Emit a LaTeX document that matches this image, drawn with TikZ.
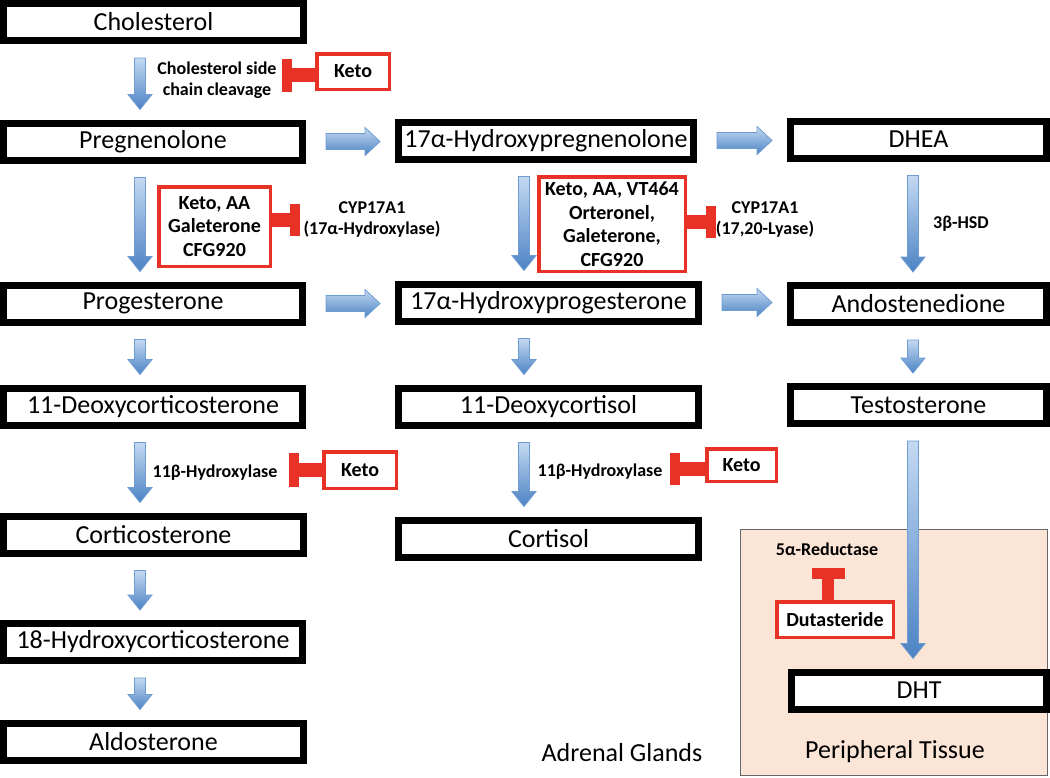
\documentclass[tikz,border=0pt]{standalone}
\usepackage{fontspec}
\setmainfont{Carlito}
\usepackage{xcolor}
\definecolor{inhred}{RGB}{233,50,38}
\definecolor{flowlight}{RGB}{196,217,242}
\definecolor{flowdark}{RGB}{76,131,196}
\definecolor{flowedge}{RGB}{110,155,210}
\definecolor{tissue}{RGB}{251,229,214}
\usepackage{tikz}
\usetikzlibrary{calc}
\usetikzlibrary{shadows}

\tikzset{
  stepbox/.style={draw=black,line width=7pt,fill=white,minimum height=37pt,inner sep=0pt,font=\fontsize{26}{28}\selectfont},
  drugbox/.style={draw=inhred,line width=3.5pt,fill=white,align=center,inner sep=1pt,font=\bfseries\fontsize{20}{23.5}\selectfont,drop shadow={shadow xshift=1.5pt,shadow yshift=-1.5pt,opacity=0.3}},
  enzyme/.style={align=center,inner sep=0pt,font=\bfseries\fontsize{18}{21}\selectfont},
  region/.style={inner sep=0pt,font=\fontsize{26}{28}\selectfont},
  inhstem/.style={draw=inhred,line width=14pt},
  inhbar/.style={draw=inhred,line width=10pt},
  flowarrow/.style={top color=flowlight,bottom color=flowdark,draw=flowedge,line width=0.8pt},
}

\newcommand{\flowdown}[3]{%
  \path[flowarrow] let \p1=(#1.south), \p2=(#2.north), \p3=(#3) in
    (\x3-5.5pt,\y1-14pt) -- (\x3+5.5pt,\y1-14pt) -- (\x3+5.5pt,\y2+25pt)
    -- (\x3+12pt,\y2+25pt) -- (\x3,\y2+10pt) -- (\x3-12pt,\y2+25pt)
    -- (\x3-5.5pt,\y2+25pt) -- cycle;}
\newcommand{\flowright}[2]{%
  \path[flowarrow] let \p1=(#1.east), \p2=(#2.west) in
    (\x1+20pt,\y1+8pt) -- (\x2-30pt,\y1+8pt) -- (\x2-30pt,\y1+14pt)
    -- (\x2-15pt,\y1) -- (\x2-30pt,\y1-14pt) -- (\x2-30pt,\y1-8pt)
    -- (\x1+20pt,\y1-8pt) -- cycle;}

\begin{document}
\begin{tikzpicture}[x=1pt,y=-1pt]
\useasboundingbox (0,0) rectangle (1050,777);

\node (tissuebox) at (894,652.5) [draw=black!60,line width=1.2pt,fill=tissue,minimum width=306.8,minimum height=245.8,inner sep=0pt]{};

\coordinate (colA) at (140,0);
\coordinate (colB) at (524,0);
\coordinate (colC) at (913,0);

\node (chol) at (153.5,22) [stepbox,minimum width=300]{Cholesterol};
\node (preg) at (153,141.5) [stepbox,minimum width=299]{Pregnenolone};
\node (ohpreg) at (546,140.5) [stepbox,minimum width=295]{17α-Hydroxypregnenolone};
\node (dhea) at (918.5,139.5) [stepbox,minimum width=256]{DHEA};
\node (prog) at (153,303.5) [stepbox,minimum width=299]{Progesterone};
\node (ohprog) at (548.5,302.5) [stepbox,minimum width=300]{17α-Hydroxyprogesterone};
\node (andro) at (918.5,304) [stepbox,minimum width=256]{Andostenedione};
\node (doc) at (153,406.5) [stepbox,minimum width=299]{11-Deoxycorticosterone};
\node (dcort) at (548.5,406.5) [stepbox,minimum width=300]{11-Deoxycortisol};
\node (testo) at (918.5,405) [stepbox,minimum width=256]{Testosterone};
\node (cortico) at (153.5,534.5) [stepbox,minimum width=300]{Corticosterone};
\node (cortisol) at (548.5,538.5) [stepbox,minimum width=300]{Cortisol};
\node (ohcort) at (153,642) [stepbox,minimum width=299]{18-Hydroxycorticosterone};
\node (aldo) at (153.5,741.5) [stepbox,minimum width=300]{Aldosterone};
\node (dht) at (919,690.5) [stepbox,minimum width=255]{DHT};

\flowdown{chol}{preg}{colA}
\flowdown{preg}{prog}{colA}
\flowdown{prog}{doc}{colA}
\flowdown{doc}{cortico}{colA}
\flowdown{cortico}{ohcort}{colA}
\flowdown{ohcort}{aldo}{colA}
\flowdown{ohpreg}{ohprog}{colB}
\flowdown{ohprog}{dcort}{colB}
\flowdown{dcort}{cortisol}{colB}
\flowdown{dhea}{andro}{colC}
\flowdown{andro}{testo}{colC}
\flowdown{testo}{dht}{colC}
\flowright{preg}{ohpreg}
\flowright{ohpreg}{dhea}
\flowright{prog}{ohprog}
\flowright{ohprog}{andro}

\node (scc) at (217,80) [enzyme]{Cholesterol side\\chain cleavage};
\node (hyd17) at (372,220) [enzyme]{CYP17A1\\(17α-Hydroxylase)};
\node (lyase) at (765,220) [enzyme]{CYP17A1\\(17,20-Lyase)};
\node (hsd) at (961,224) [enzyme]{3β-HSD};
\node (hyd11a) at (215,473) [enzyme]{11β-Hydroxylase};
\node (hyd11b) at (600,472) [enzyme]{11β-Hydroxylase};
\node (red5a) at (827,549) [enzyme]{5α-Reductase};

\node (keto1) at (353,71.5) [drugbox,minimum width=72.5,minimum height=35.5]{Keto};
\node (kagc) at (214.5,226.5) [drugbox,minimum width=111.5,minimum height=79.5]{Keto, AA\\Galeterone\\CFG920};
\node (kavog) at (612,224) [drugbox,minimum width=146.5,minimum height=94.5]{Keto, AA, VT464\\Orteronel,\\Galeterone,\\CFG920};
\node (keto2) at (360,470) [drugbox,minimum width=72.5,minimum height=36.5]{Keto};
\node (keto3) at (741.5,465) [drugbox,minimum width=69.5,minimum height=32.5]{Keto};
\node (dutas) at (835,619.5) [drugbox,minimum width=116.5,minimum height=35.5]{Dutasteride};

\draw[inhstem] ([yshift=-3.5pt]keto1.west) -- ++(-28.5,0) coordinate (t1);
\draw[inhbar] ($(t1)+(0,-16.5)$) -- ($(t1)+(0,16.5)$);
\draw[inhstem] ([yshift=6.5pt]kagc.east) -- ++(22.5,0) coordinate (t2);
\draw[inhbar] ($(t2)+(0,-16)$) -- ($(t2)+(0,16)$);
\draw[inhstem] ([yshift=2.5pt]kavog.east) -- ++(24,0) coordinate (t3);
\draw[inhbar] ($(t3)+(0,-16)$) -- ($(t3)+(0,16)$);
\draw[inhstem] (keto2.west) -- ++(-28.5,0) coordinate (t4);
\draw[inhbar] ($(t4)+(0,-17)$) -- ($(t4)+(0,17)$);
\draw[inhstem] ([yshift=-4pt]keto3.west) -- ++(-30,0) coordinate (t5);
\draw[inhbar] ($(t5)+(0,-16)$) -- ($(t5)+(0,16)$);
\draw[inhstem,line width=12pt] ([xshift=-7pt]dutas.north) -- ++(0,-27) coordinate (t6);
\draw[inhbar,line width=11pt] ($(t6)+(-16.5,0)$) -- ($(t6)+(16.5,0)$);

\node (adrenal) at (622,753) [region]{Adrenal Glands};
\node (periph) at (895,752) [region]{Peripheral Tissue};
\end{tikzpicture}
\end{document}
